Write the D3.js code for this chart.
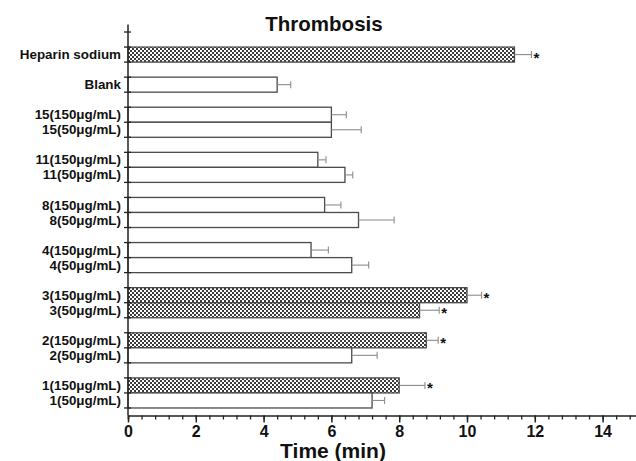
<!DOCTYPE html>
<html>
<head>
<meta charset="utf-8">
<script src="https://cdn.jsdelivr.net/npm/d3@7"></script>
<style>
  body { margin: 0; background: #fff; }
  text { font-family: "Liberation Sans", Arial, sans-serif; font-weight: bold; }
</style>
</head>
<body>
<svg id="chart"></svg>
<script>
// groups of bars, top to bottom (one empty row between groups)
const groups = [
  ["Heparin sodium"],
  ["Blank"],
  ["15(150μg/mL)", "15(50μg/mL)"],
  ["11(150μg/mL)", "11(50μg/mL)"],
  ["8(150μg/mL)", "8(50μg/mL)"],
  ["4(150μg/mL)", "4(50μg/mL)"],
  ["3(150μg/mL)", "3(50μg/mL)"],
  ["2(150μg/mL)", "2(50μg/mL)"],
  ["1(150μg/mL)", "1(50μg/mL)"]
];
// mean time (min), same order as the flattened groups
const means  = [11.4, 4.4, 6.0, 6.0, 5.6, 6.4, 5.8, 6.8, 5.4, 6.6, 10.0, 8.6, 8.8, 6.6, 8.0, 7.2];
const errors = [0.5, 0.4, 0.44, 0.88, 0.24, 0.23, 0.48, 1.05, 0.51, 0.5, 0.43, 0.58, 0.35, 0.75, 0.76, 0.37];
const significant = [1, 0, 0, 0, 0, 0, 0, 0, 0, 0, 1, 1, 1, 0, 1, 0];
const xTicks = [0, 2, 4, 6, 8, 10, 12, 14];

const width = 636, height = 461;
const svg = d3.select('#chart').attr('width', width).attr('height', height);

// hatch pattern for significant bars
const pat = svg.append('defs').append('pattern')
  .attr('id', 'checker')
  .attr('patternUnits', 'userSpaceOnUse')
  .attr('width', 4).attr('height', 4);
pat.append('rect').attr('width', 4).attr('height', 4).attr('fill', '#fff');
pat.append('rect').attr('width', 2).attr('height', 2).attr('fill', '#3a3a3a');
pat.append('rect').attr('x', 2).attr('y', 2).attr('width', 2).attr('height', 2).attr('fill', '#3a3a3a');

// slot layout: empty row at top, gap row between groups
const rows = [];
let slot = 1;
groups.forEach((g, gi) => {
  g.forEach(name => { rows.push({ name: name, slot: slot }); slot++; });
  slot++;
});
rows.forEach((r, i) => {
  r.value = means[i];
  r.err = errors[i];
  r.sig = significant[i] === 1;
});
const nSlots = slot - 1; // 25

const x = d3.scaleLinear().domain([0, 15]).range([128, 636.5]);
const y = d3.scaleLinear().domain([-0.5, nSlots + 0.5]).range([24.5, 415.5]);

// bars
svg.append('g').selectAll('rect')
  .data(rows)
  .join('rect')
  .attr('x', x(0))
  .attr('y', d => y(d.slot))
  .attr('width', d => x(d.value) - x(0))
  .attr('height', d => y(d.slot + 1) - y(d.slot))
  .attr('fill', d => d.sig ? 'url(#checker)' : '#fff')
  .attr('stroke', '#4a4a4a')
  .attr('stroke-width', 1.3);

// error bars
const eb = svg.append('g').attr('stroke', '#8c8c8c').attr('stroke-width', 1.1);
rows.forEach(d => {
  const cy = y(d.slot + 0.5);
  eb.append('line')
    .attr('x1', x(d.value)).attr('x2', x(d.value + d.err))
    .attr('y1', cy).attr('y2', cy);
  eb.append('line')
    .attr('x1', x(d.value + d.err)).attr('x2', x(d.value + d.err))
    .attr('y1', cy - 3.5).attr('y2', cy + 3.5);
});

// significance stars
svg.append('g').selectAll('text')
  .data(rows.filter(d => d.sig))
  .join('text')
  .attr('x', d => x(d.value + d.err) + 2)
  .attr('y', d => y(d.slot + 0.5) + 8)
  .style('font-size', '15px')
  .attr('fill', '#111')
  .text('*');

// y axis
const yAxisG = svg.append('g').attr('stroke', '#222');
yAxisG.append('line')
  .attr('x1', x(0)).attr('x2', x(0))
  .attr('y1', y(-0.5)).attr('y2', y(nSlots + 0.5))
  .attr('stroke-width', 1.5);
yAxisG.selectAll('.ytick')
  .data(d3.range(0, nSlots + 1))
  .join('line')
  .attr('class', 'ytick')
  .attr('x1', x(0) - 4).attr('x2', x(0) + 3)
  .attr('y1', d => y(d)).attr('y2', d => y(d))
  .attr('stroke-width', 1.3);

// category labels
svg.append('g').selectAll('text')
  .data(rows)
  .join('text')
  .attr('x', x(0) - 7)
  .attr('y', d => y(d.slot + 0.5) + 4.6)
  .attr('text-anchor', 'end')
  .style('font-size', '13.4px')
  .attr('fill', '#111')
  .text(d => d.name);

// x axis
const xAxisG = svg.append('g')
  .attr('transform', `translate(0,${y(nSlots + 0.5)})`);
xAxisG.call(d3.axisBottom(x).tickValues(d3.range(0, 15.01, 0.4)).tickSize(4).tickFormat(''));
xAxisG.call(g => g.select('.domain').attr('stroke', '#222').attr('stroke-width', 1.5));
xAxisG.selectAll('.tick line').attr('stroke', '#222').attr('stroke-width', 1.3);
const major = svg.append('g')
  .attr('transform', `translate(0,${y(nSlots + 0.5)})`);
major.call(d3.axisBottom(x).tickValues(xTicks).tickSize(7).tickFormat(d3.format('d')));
major.select('.domain').remove();
major.selectAll('.tick line').attr('stroke', '#222').attr('stroke-width', 1.5);
major.selectAll('.tick text')
  .attr('y', 10)
  .style('font-size', '16px')
  .style('font-family', '"Liberation Sans", Arial, sans-serif')
  .style('font-weight', 'bold')
  .attr('fill', '#111');

// axis title
svg.append('text')
  .attr('x', 333)
  .attr('y', 458)
  .attr('text-anchor', 'middle')
  .style('font-size', '21px')
  .attr('fill', '#111')
  .text('Time (min)');

// chart title
svg.append('text')
  .attr('x', 324)
  .attr('y', 31)
  .attr('text-anchor', 'middle')
  .style('font-size', '20.5px')
  .attr('fill', '#111')
  .text('Thrombosis');
</script>
</body>
</html>
